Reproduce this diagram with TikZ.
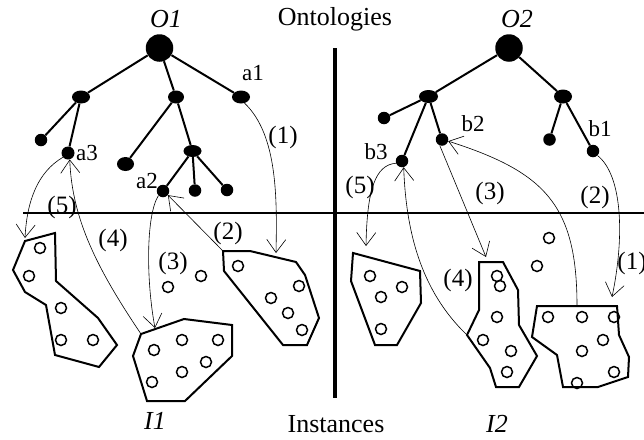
\documentclass[tikz,border=0pt]{standalone}
\usepackage{fontspec}
\setmainfont{Liberation Serif}
\usetikzlibrary{arrows.meta,shapes.geometric}

\begin{document}
\begin{tikzpicture}[
  x=1pt, y=-1pt,
  dotnode/.style ={ellipse, fill=black, inner sep=0pt, minimum width=18pt, minimum height=13pt},
  bignode/.style ={circle, fill=black, inner sep=0pt, minimum size=27.5pt},
  leafnode/.style={circle, fill=black, inner sep=0pt, minimum size=12.5pt},
  edge/.style    ={line width=2pt},
  inst/.style    ={draw, line width=1.5pt, circle, inner sep=0pt, minimum size=11pt},
  clus/.style    ={draw, line width=2pt, line join=miter},
  mapar/.style   ={line width=0.6pt, -{Straight Barb[length=13pt,width=19pt,line width=0.6pt]}},
  lbl/.style     ={font=\fontsize{25}{30}\selectfont, inner sep=0pt},
  tag/.style     ={font=\fontsize{23}{28}\selectfont, inner sep=0pt},
  ttl/.style     ={font=\fontsize{26}{31}\selectfont, inner sep=0pt, anchor=base},
]
\useasboundingbox (0,0) rectangle (644,439);

% --- separators ---
\coordinate (hl) at (23,213);  \coordinate (hr) at (644,213);
\coordinate (vt) at (335,48);  \coordinate (vb) at (335,398);
\draw[line width=1.7pt] (hl) -- (hr);
\draw[line width=4.5pt] (vt) -- (vb);

% --- titles ---
\node[ttl] (onto)  at (335,25)  {Ontologies};
\node[ttl] (inst)  at (336,432) {Instances};
\node[ttl] (o1)    at (166,27)  {\itshape O1};
\node[ttl] (o2)    at (517,27)  {\itshape O2};
\node[ttl] (i1)    at (155,429) {\itshape I1};
\node[ttl] (i2)    at (497,432) {\itshape I2};

% --- ontology O1 ---
\node[bignode]  (r1) at (159.5,48) {};
\node[dotnode]  (n1) at (81,97) {};
\node[dotnode, minimum width=16pt] (n2) at (176,97) {};
\node[dotnode]  (a1) at (241,97) {};
\node[leafnode] (f1) at (41,140) {};
\node[leafnode, minimum size=13pt] (a3) at (68,153) {};
\node[dotnode, minimum width=17pt, minimum height=14pt] (f2) at (125.5,164) {};
\node[dotnode, minimum height=12pt] (n3) at (192.5,151) {};
\node[leafnode] (a2) at (163,191) {};
\node[leafnode] (f3) at (195,190.5) {};
\node[leafnode] (f4) at (227,190) {};
\draw[edge] (r1) -- (n1);  \draw[edge] (r1) -- (n2);  \draw[edge] (r1) -- (a1);
\draw[edge] (n1) -- (f1);  \draw[edge] (n1) -- (a3);
\draw[edge] (n2) -- (f2);  \draw[edge] (n2) -- (n3);
\draw[edge] (n3) -- (a2);  \draw[edge] (n3) -- (f3);  \draw[edge] (n3) -- (f4);

% --- ontology O2 ---
\node[bignode]  (r2) at (509,48) {};
\node[dotnode, minimum width=19pt]  (m1) at (428.5,96.5) {};
\node[dotnode, minimum height=14pt] (m2) at (563,96.5) {};
\node[leafnode] (f5) at (384,118) {};
\node[leafnode] (b3) at (402,161) {};
\node[leafnode] (b2) at (442,139.5) {};
\node[leafnode] (f6) at (549.5,139.5) {};
\node[leafnode] (b1) at (593,151) {};
\draw[edge] (r2) -- (m1);  \draw[edge] (r2) -- (m2);
\draw[edge] (m1) -- (f5);  \draw[edge] (m1) -- (b3);  \draw[edge] (m1) -- (b2);
\draw[edge] (m2) -- (f6);  \draw[edge] (m2) -- (b1);

% --- concept names ---
\node[tag] (ta1) at (253,73)  {a1};
\node[tag] (ta2) at (147,181) {a2};
\node[tag] (ta3) at (87,153)  {a3};
\node[tag] (tb1) at (600,129) {b1};
\node[tag] (tb2) at (473,124) {b2};
\node[tag] (tb3) at (376,152) {b3};

% --- instance sets of I1 ---
\draw[clus] (25,241) -- (55,233) -- (56,281) -- (98,318) -- (117,345) -- (99,367)
  -- (55,355) -- (46,305) -- (25,292) -- (13,270) -- cycle;
\draw[clus] (141,334) -- (184,319) -- (232,325) -- (232,356) -- (185,401) -- (147,401)
  -- (133,356) -- cycle;
\draw[clus] (223,251) -- (250,251) -- (296,262) -- (305,275) -- (319,318) -- (307,345)
  -- (283,345) -- (224,271) -- cycle;
\foreach \p [count=\i] in {(40,248),(29,276),(61,308),(61,340),(93,340),
    (154,350),(182,340),(218,340),(206,362),(182,372),(152,382),
    (168,287),(201,276),
    (238,266),(299,286),(271,298),(288,313),(302,330)}
  \node[inst] (u\i) at \p {};

% --- instance sets of I2 ---
\draw[clus] (353,253) -- (420,271) -- (421,303) -- (397,345) -- (375,345) -- (351,281) -- cycle;
\draw[clus] (479,262) -- (503,262) -- (518,290) -- (519,325) -- (537,356) -- (519,387)
  -- (496,387) -- (490,368) -- (467,335) -- (479,310) -- cycle;
\draw[clus] (537,306) -- (617,306) -- (619,335) -- (629,357) -- (628,377) -- (598,387)
  -- (563,387) -- (557,355) -- (532,337) -- cycle;
\foreach \p [count=\i] in {(370,276),(381,297),(402,287),(381,329),
    (497,276),(500,286),(497,317),(483,340),(511,351),(507,372),
    (549,238),(537,266),
    (548,317),(582,317),(614,317),(603,340),(582,351),(614,372),(577,383)}
  \node[inst] (v\i) at \p {};

% --- attachment points on the sets ---
\coordinate (sA)  at (25,238);
\coordinate (sB)  at (155,328);
\coordinate (sB2) at (141,334);
\coordinate (sC)  at (276,253);
\coordinate (sC2) at (223,251);
\coordinate (sD)  at (366,246);
\coordinate (sE)  at (486,257);
\coordinate (sE2) at (467,335);
\coordinate (sF)  at (612,297);
\coordinate (sF2) at (577,306);

% --- mappings O1 / I1 ---
\draw[mapar] (a1.-60) .. controls (278,135) and (277,200) .. (sC);
\draw[mapar] (sC2) -- (a2.-40);
\draw[mapar] (a2.-135) .. controls (146,215) and (146,280) .. (sB);
\draw[mapar] (sB2) .. controls (98,270) and (72,220) .. (a3.-75);
\draw[mapar] (a3.-140) .. controls (38,172) and (27,200) .. (sA);
\node[lbl] (l1) at (283,137) {(1)};
\node[lbl] (l2) at (228,233) {(2)};
\node[lbl] (l3) at (173,263) {(3)};
\node[lbl] (l4) at (113,240) {(4)};
\node[lbl] (l5) at (62,207)  {(5)};

% --- mappings O2 / I2 ---
\draw[mapar] (b1.-45) .. controls (622,175) and (625,235) .. (sF);
\draw[mapar] (sF2) .. controls (577,205) and (545,172) .. (b2.-15);
\draw[mapar] (b2.-110) -- (sE);
\draw[mapar] (sE2) .. controls (420,290) and (406,230) .. (b3.-75);
\draw[mapar] (b3.200) .. controls (375,165) and (367,190) .. (sD);
\node[lbl] (k1) at (632,263) {(1)};
\node[lbl] (k2) at (595,197) {(2)};
\node[lbl] (k3) at (490,193) {(3)};
\node[lbl] (k4) at (458,280) {(4)};
\node[lbl] (k5) at (360,187) {(5)};
\end{tikzpicture}
\end{document}
